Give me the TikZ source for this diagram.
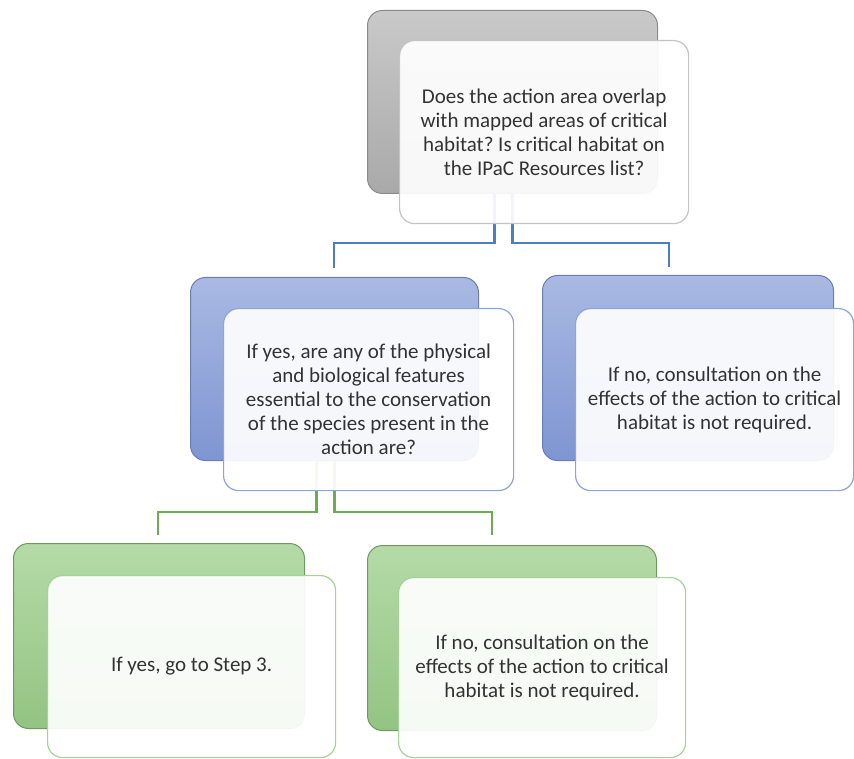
\documentclass[tikz,border=0pt]{standalone}
\usepackage{fontspec}
\setmainfont{Carlito}
\frenchspacing
\definecolor{txt}{HTML}{333333}
\definecolor{grayTop}{HTML}{C9C9C9}
\definecolor{grayBot}{HTML}{A9A9A9}
\definecolor{grayLine}{HTML}{8A8A8A}
\definecolor{grayFront}{HTML}{C4C4C4}
\definecolor{blueTop}{HTML}{A9B9E3}
\definecolor{blueBot}{HTML}{7F95D2}
\definecolor{blueLine}{HTML}{6A7DB3}
\definecolor{blueFront}{HTML}{8DA5D8}
\definecolor{blueConn}{HTML}{4F7EC0}
\definecolor{greenTop}{HTML}{B5DAA7}
\definecolor{greenBot}{HTML}{93C483}
\definecolor{greenLine}{HTML}{6E9960}
\definecolor{greenFront}{HTML}{A5D395}
\definecolor{greenConn}{HTML}{6FAC4F}
\tikzset{
  backbox/.style={rounded corners=15pt, line width=1pt, anchor=north west, inner sep=0pt},
  frontbox/.style={rounded corners=15pt, line width=1.2pt, anchor=north west, inner sep=0pt,
    fill=white, fill opacity=0.92, text opacity=1, text=txt, align=center,
    font=\fontsize{21pt}{24pt}\selectfont},
  grayback/.style={backbox, draw=grayLine, top color=grayTop, bottom color=grayBot},
  blueback/.style={backbox, draw=blueLine, top color=blueTop, bottom color=blueBot},
  greenback/.style={backbox, draw=greenLine, top color=greenTop, bottom color=greenBot},
  grayfront/.style={frontbox, draw=grayFront},
  bluefront/.style={frontbox, draw=blueFront},
  greenfront/.style={frontbox, draw=greenFront},
  bconn/.style={draw=blueConn, line width=2.4pt},
  gconn/.style={draw=greenConn, line width=2.4pt},
}
\begin{document}
\begin{tikzpicture}[x=1pt,y=-1pt]
\useasboundingbox (0,0) rectangle (854,759);
% back boxes
\node[grayback, minimum width=290pt, minimum height=183pt] (topB) at (367,10) {};
\node[blueback, minimum width=288pt, minimum height=183pt] (mlB) at (190,277) {};
\node[blueback, minimum width=291pt, minimum height=185pt] (mrB) at (542,275) {};
\node[greenback, minimum width=291pt, minimum height=185pt] (blB) at (13,543) {};
\node[greenback, minimum width=289pt, minimum height=185pt] (brB) at (367,545) {};
% connectors
\coordinate (c1) at (334,268);
\coordinate (c2) at (669,267);
\coordinate (c3) at (158,535);
\coordinate (c4) at (492,535);
\draw[bconn] ([xshift=-18pt]topB.south) |- (c1 |- 0,243) -- (c1);
\draw[bconn] (topB.south) |- (c2 |- 0,243) -- (c2);
\draw[gconn] ([xshift=-18pt]mlB.south) |- (c3 |- 0,512) -- (c3);
\draw[gconn] (mlB.south) |- (c4 |- 0,512) -- (c4);
% front boxes
\node[grayfront, minimum width=289pt, minimum height=183pt] (topF) at (399,40)
  {Does the action area overlap\\ with mapped areas of critical\\ habitat? Is critical habitat on\\ the IPaC Resources list?};
\node[bluefront, minimum width=290pt, minimum height=182pt] (mlF) at (223,308)
  {If yes, are any of the physical\\ and biological features\\ essential to the conservation\\ of the species present in the\\ action are?};
\node[bluefront, minimum width=278pt, minimum height=182pt] (mrF) at (575,308)
  {If no, consultation on the\\ effects of the action to critical\\ habitat is not required.};
\node[greenfront, minimum width=288pt, minimum height=182pt] (blF) at (47,575)
  {If yes, go to Step 3.};
\node[greenfront, minimum width=287pt, minimum height=180pt] (brF) at (398,577)
  {If no, consultation on the\\ effects of the action to critical\\ habitat is not required.};
\end{tikzpicture}
\end{document}
